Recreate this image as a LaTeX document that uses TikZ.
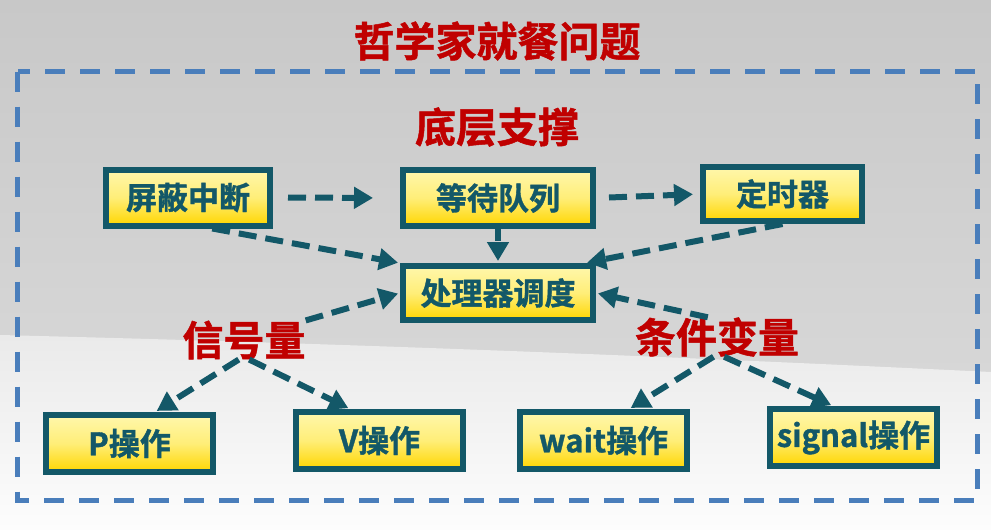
\documentclass[tikz,border=0pt]{standalone}
\usepackage{fontspec}
\newfontfamily\cjk{Noto Sans CJK SC}[BoldFont={Noto Sans CJK SC Bold},BoldFeatures={FakeBold=1.2}]
\usepackage{tikz}
\usetikzlibrary{arrows.meta,positioning}

\definecolor{tealc}{RGB}{19,88,104}
\definecolor{redc}{RGB}{192,0,0}
\definecolor{bluec}{RGB}{74,126,187}
\definecolor{boxtop}{RGB}{255,247,172}
\definecolor{boxmid}{RGB}{255,238,120}
\definecolor{boxbot}{RGB}{255,214,0}
\definecolor{bgtop}{RGB}{200,200,200}
\definecolor{bgmid}{RGB}{216,216,216}
\definecolor{bglow}{RGB}{234,234,234}
\definecolor{bgbot}{RGB}{253,253,253}

\begin{document}
\begin{tikzpicture}[x=1pt,y=-1pt,
  opbox/.style={draw=tealc,line width=6pt,top color=boxtop,bottom color=boxbot,middle color=boxmid,
    text=tealc,font=\cjk\bfseries\fontsize{31}{31}\selectfont,minimum height=56pt,inner sep=0pt},
  lbl/.style={text=redc,font=\cjk\bfseries\fontsize{41}{41}\selectfont,inner sep=0pt},
  flow/.style={draw=tealc,line width=6pt,dash pattern=on 18pt off 9pt,shorten >=2pt,
    -{Triangle[length=19pt,width=21pt]}}]
\useasboundingbox (0,0) rectangle (991,530);

% background
\shade[top color=bgtop,bottom color=bgmid] (0,0) rectangle (991,400);
\shade[top color=bglow,bottom color=bgbot] (0,335) .. controls (400,345) and (700,358) .. (991,372)
  -- (991,530) -- (0,530) -- cycle;
\draw[bluec,line width=5pt,dash pattern=on 20pt off 15pt] (17.5,71.5) rectangle (977.5,500);

% labels
\node(title)[lbl] at (497,41) {哲学家就餐问题};
\node(base)[lbl] at (497,127) {底层支撑};
\node(sem)[lbl] at (244,340) {信号量};
\node(cond)[lbl] at (717,337) {条件变量};

% boxes
\node(mask)[opbox,minimum width=164pt] at (188,197.5) {屏蔽中断};
\node(queue)[opbox,minimum width=190pt] at (498,198) {等待队列};
\node(timer)[opbox,minimum width=159pt,minimum height=54pt] at (782.5,194) {定时器};
\node(sched)[opbox,minimum width=190pt,minimum height=54pt] at (498,293) {处理器调度};
\node(P)[opbox,minimum width=167pt,minimum height=57pt] at (129.5,443.5) {P操作};
\node(V)[opbox,minimum width=167pt,minimum height=57pt] at (379.5,440.5) {V操作};
\node(wait)[opbox,minimum width=167pt,minimum height=57pt] at (603.5,440.5) {wait操作};
\node(signal)[opbox,minimum width=167pt,minimum height=57pt] at (853.5,437.5) {signal操作};

% connectors
\draw [flow,shorten <=15pt,shorten >=27pt] (mask.east) to (queue.west);
\draw [flow,shorten <=13pt,shorten >=7pt] (queue.east) to (timer.west);
\draw [flow] (mask.-52) to (sched.163);
\draw [flow,dash pattern=on 12pt off 6pt] (queue.south) to (sched.north);
\draw [flow] (timer.south) to (sched.19);
\draw [flow] (sem.north east) to (sched.west);
\draw [flow] (cond.115) to (sched.east);
\draw [flow] (sem.-105) to (P.51);
\draw [flow] (sem.-75) to (V.133);
\draw [flow] (cond.-100) to (wait.51);
\draw [flow] (cond.-70) to (signal.123);
\end{tikzpicture}
\end{document}
